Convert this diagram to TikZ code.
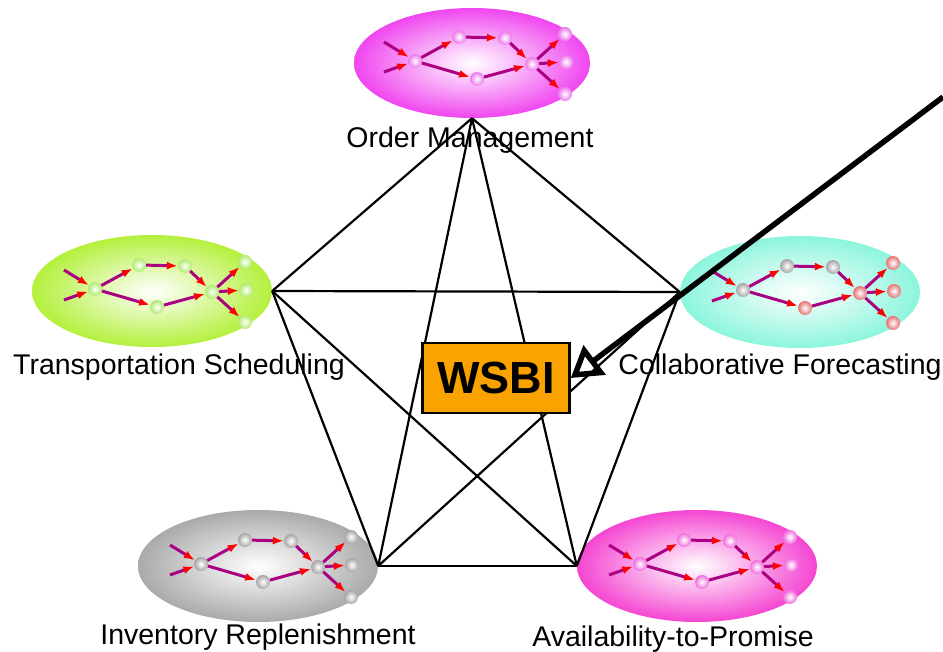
\documentclass[tikz,border=0pt]{standalone}
\usepackage{fontspec}
\setmainfont{Liberation Sans}
\usetikzlibrary{shapes.geometric,arrows.meta,positioning}

\definecolor{ombg}{RGB}{240,70,240}
\definecolor{tsbg}{RGB}{180,240,60}
\definecolor{cfbg}{RGB}{140,245,220}
\definecolor{irbg}{RGB}{170,170,170}
\definecolor{atpbg}{RGB}{245,70,210}
\definecolor{ompearl}{RGB}{235,120,235}
\definecolor{tspearl}{RGB}{175,235,110}
\definecolor{greypearl}{RGB}{165,165,165}
\definecolor{redpearl}{RGB}{230,115,115}
\definecolor{atppearl}{RGB}{240,110,220}
\definecolor{flowpurple}{RGB}{170,0,130}
\definecolor{wsbiorange}{RGB}{249,162,0}

\tikzset{
  process/.style={ellipse,minimum width=240pt,minimum height=112pt,inner sep=0pt,
    shading=radial,inner color=white,outer color=#1},
  pearl/.style={circle,minimum size=14pt,inner sep=0pt,shading=radial,
    inner color=white,outer color=#1},
  flowarrow/.style={draw=flowpurple,line width=3pt,
    -{Latex[color=red,length=11pt,width=8pt]}},
  caption/.style={anchor=base,font=\fontsize{28.5}{34}\selectfont},
  link/.style={line width=2.2pt}
}

% little flow of pearls inside each process
\newcommand{\pearlflow}[4]{%
\begin{scope}[shift={(#2)}]
\coordinate (#1i1) at (-88,-21);
\coordinate (#1i2) at (-88,9);
\node[pearl=#3] (#1a) at (-57,-2) {};
\node[pearl=#3] (#1b) at (-13,-26) {};
\node[pearl=#3] (#1c) at (33,-25) {};
\node[pearl=#4] (#1d) at (5,16) {};
\node[pearl=#4] (#1e) at (60,1) {};
\node[pearl=#4] (#1o1) at (93,-29) {};
\node[pearl=#4] (#1o2) at (94,-1) {};
\node[pearl=#4] (#1o3) at (93,31) {};
\draw[flowarrow] (#1i1) -- (#1a);
\draw[flowarrow] (#1i2) -- (#1a);
\draw[flowarrow] (#1a) -- (#1b);
\draw[flowarrow] (#1a) -- (#1d);
\draw[flowarrow] (#1b) -- (#1c);
\draw[flowarrow] (#1c) -- (#1e);
\draw[flowarrow] (#1d) -- (#1e);
\draw[flowarrow] (#1e) -- (#1o1);
\draw[flowarrow] (#1e) -- (#1o2);
\draw[flowarrow] (#1e) -- (#1o3);
\end{scope}}

\begin{document}
\begin{tikzpicture}[x=1pt,y=-1pt]
\useasboundingbox (0,0) rectangle (943,652);

% the five processes
\node[process=ombg,minimum width=236pt,minimum height=110pt] (om) at (472,63) {};
\node[process=tsbg] (ts) at (152,291) {};
\node[process=cfbg] (cf) at (800,292) {};
\node[process=irbg] (ir) at (258,566) {};
\node[process=atpbg] (atp) at (697,566) {};

\pearlflow{om}{om.center}{ompearl}{ompearl}
\pearlflow{ts}{ts.center}{tspearl}{tspearl}
\pearlflow{cf}{cf.center}{greypearl}{redpearl}
\pearlflow{ir}{ir.center}{greypearl}{greypearl}
\pearlflow{atp}{atp.center}{atppearl}{atppearl}

% captions
\node[caption] (omtext) at (470,148) {Order Management};
\node[caption] (tstext) at (179,375) {Transportation Scheduling};
\node[caption] (cftext) at (780,375) {Collaborative Forecasting};
\node[caption] (irtext) at (258,644) {Inventory Replenishment};
\node[caption] (atptext) at (673,646) {Availability-to-Promise};

% every process linked to every other
\draw[link] (om.south) -- (ts.east);
\draw[link] (om.south) -- (cf.west);
\draw[link] (om.south) -- (ir.east);
\draw[link] (om.south) -- (atp.west);
\draw[link] (ts.east) -- (cf.west);
\draw[link] (ts.east) -- (ir.east);
\draw[link] (ts.east) -- (atp.west);
\draw[link] (cf.west) -- (ir.east);
\draw[link] (cf.west) -- (atp.west);
\draw[link] (ir.east) -- (atp.west);

% the hub
\node[draw,line width=2.5pt,fill=wsbiorange,minimum width=147pt,minimum height=70pt,
  font=\bfseries\fontsize{45}{50}\selectfont] (wsbi) at (496,378) {WSBI};

\coordinate (feed) at (943,97);
\draw[line width=5.5pt,-{Triangle[open,length=30pt,width=36pt]}] (feed) -- (wsbi.east);
\end{tikzpicture}
\end{document}
